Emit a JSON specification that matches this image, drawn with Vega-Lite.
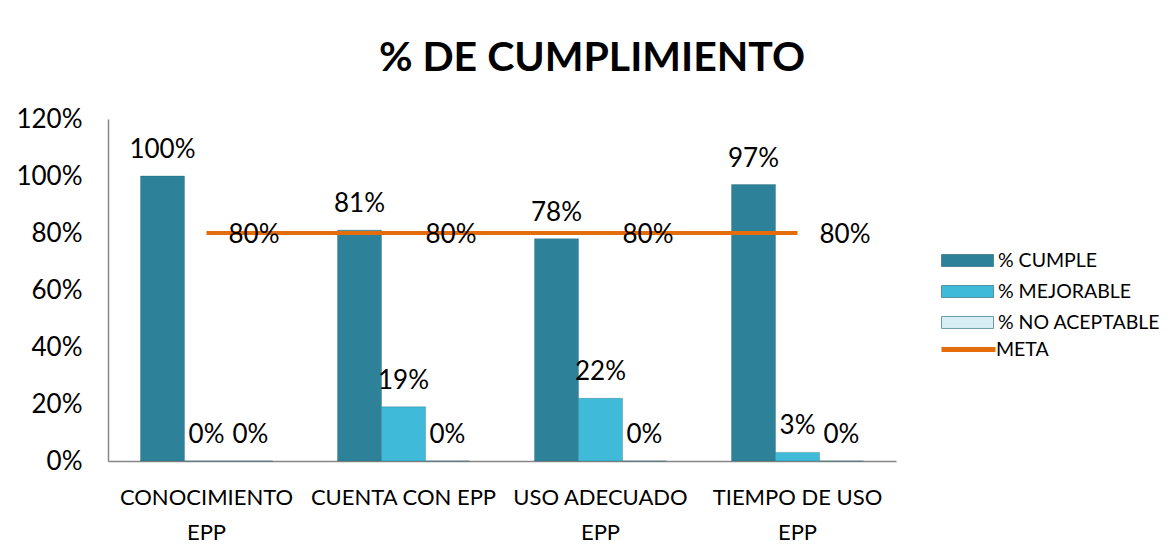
{
  "$schema": "https://vega.github.io/schema/vega-lite/v6.json",
  "width": 788,
  "height": 342,
  "autosize": {"type": "none"},
  "padding": {"left": 108, "top": 119, "right": 276, "bottom": 96},
  "background": "white",
  "config": {
    "font": "Lato, sans-serif",
    "view": {"stroke": null}
  },
  "title": {
    "text": "% DE CUMPLIMIENTO",
    "fontSize": 41,
    "fontWeight": "bold",
    "font": "Lato, sans-serif",
    "color": "#000000",
    "anchor": "middle",
    "dx": 90,
    "offset": 26
  },
  "datasets": {
    "barras": [
      {"categoria": "CONOCIMIENTO EPP", "serie": "% CUMPLE", "valor": 1.00},
      {"categoria": "CONOCIMIENTO EPP", "serie": "% MEJORABLE", "valor": 0.00},
      {"categoria": "CONOCIMIENTO EPP", "serie": "% NO ACEPTABLE", "valor": 0.00},
      {"categoria": "CUENTA CON EPP", "serie": "% CUMPLE", "valor": 0.81},
      {"categoria": "CUENTA CON EPP", "serie": "% MEJORABLE", "valor": 0.19},
      {"categoria": "CUENTA CON EPP", "serie": "% NO ACEPTABLE", "valor": 0.00},
      {"categoria": "USO ADECUADO EPP", "serie": "% CUMPLE", "valor": 0.78},
      {"categoria": "USO ADECUADO EPP", "serie": "% MEJORABLE", "valor": 0.22},
      {"categoria": "USO ADECUADO EPP", "serie": "% NO ACEPTABLE", "valor": 0.00},
      {"categoria": "TIEMPO DE USO EPP", "serie": "% CUMPLE", "valor": 0.97},
      {"categoria": "TIEMPO DE USO EPP", "serie": "% MEJORABLE", "valor": 0.03},
      {"categoria": "TIEMPO DE USO EPP", "serie": "% NO ACEPTABLE", "valor": 0.00}
    ],
    "meta": [
      {"categoria": "CONOCIMIENTO EPP", "meta": 0.8},
      {"categoria": "CUENTA CON EPP", "meta": 0.8},
      {"categoria": "USO ADECUADO EPP", "meta": 0.8},
      {"categoria": "TIEMPO DE USO EPP", "meta": 0.8}
    ]
  },
  "encoding": {
    "x": {
      "field": "categoria",
      "type": "nominal",
      "sort": ["CONOCIMIENTO EPP", "CUENTA CON EPP", "USO ADECUADO EPP", "TIEMPO DE USO EPP"],
      "scale": {"paddingInner": 0.33, "paddingOuter": 0.165},
      "axis": {
        "title": null,
        "labelAngle": 0,
        "labelFontSize": 22,
        "labelColor": "#000000",
        "labelPadding": 26,
        "labelLineHeight": 35,
        "labelBaseline": "top",
        "labelLimit": 0,
        "labelOverlap": false,
        "ticks": false,
        "domainColor": "#868686",
        "domainWidth": 1.5,
        "labelExpr": "datum.value == 'CONOCIMIENTO EPP' ? ['CONOCIMIENTO', 'EPP'] : datum.value == 'USO ADECUADO EPP' ? ['USO ADECUADO', 'EPP'] : datum.value == 'TIEMPO DE USO EPP' ? ['TIEMPO DE USO', 'EPP'] : datum.value"
      }
    }
  },
  "layer": [
    {
      "data": {"name": "barras"},
      "mark": {"type": "bar", "stroke": "#1f5f70", "strokeWidth": 0.6, "strokeOpacity": 0.5},
      "encoding": {
        "xOffset": {
          "field": "serie",
          "type": "nominal",
          "sort": ["% CUMPLE", "% MEJORABLE", "% NO ACEPTABLE"],
          "scale": {"paddingInner": 0, "paddingOuter": 0}
        },
        "y": {
          "field": "valor",
          "type": "quantitative",
          "scale": {"domain": [0, 1.2], "nice": false},
          "axis": {
            "title": null,
            "format": ".0%",
            "values": [0, 0.2, 0.4, 0.6, 0.8, 1.0, 1.2],
            "grid": false,
            "ticks": false,
            "labelFontSize": 26,
            "labelColor": "#000000",
            "labelPadding": 26,
            "domainColor": "#868686",
            "domainWidth": 1.5
          }
        },
        "color": {
          "field": "serie",
          "type": "nominal",
          "scale": {
            "domain": ["% CUMPLE", "% MEJORABLE", "% NO ACEPTABLE"],
            "range": ["#2D8199", "#3FBBD9", "#D6EEF4"]
          },
          "legend": {
            "title": null,
            "orient": "none",
            "legendX": 846,
            "legendY": 128,
            "padding": 0,
            "symbolType": "M-2,-0.46H2V0.46H-2Z",
            "symbolSize": 676,
            "symbolStrokeWidth": 0.6,
            "symbolStrokeColor": "#1f5f70",
            "symbolOpacity": 1,
            "labelFontSize": 19.5,
            "labelColor": "#000000",
            "labelOffset": 17,
            "labelLimit": 300,
            "rowPadding": 8
          }
        }
      }
    },
    {
      "data": {"name": "barras"},
      "mark": {"type": "text", "fontSize": 26, "color": "#000000", "baseline": "alphabetic", "dy": -18},
      "encoding": {
        "xOffset": {
          "field": "serie",
          "type": "nominal",
          "sort": ["% CUMPLE", "% MEJORABLE", "% NO ACEPTABLE"]
        },
        "y": {"field": "valor", "type": "quantitative"},
        "text": {"field": "valor", "type": "quantitative", "format": ".0%"}
      }
    },
    {
      "data": {"name": "meta"},
      "mark": {"type": "line", "strokeWidth": 4},
      "encoding": {
        "y": {"field": "meta", "type": "quantitative"},
        "stroke": {
          "datum": "META",
          "type": "nominal",
          "scale": {"domain": ["META"], "range": ["#E46C0A"]},
          "legend": {
            "title": null,
            "orient": "none",
            "legendX": 831,
            "legendY": 201,
            "padding": 0,
            "symbolType": "stroke",
            "symbolSize": 2916,
            "symbolStrokeWidth": 5,
            "labelFontSize": 19.5,
            "labelColor": "#000000",
            "labelOffset": -2
          }
        }
      }
    },
    {
      "data": {"name": "meta"},
      "mark": {"type": "text", "fontSize": 26, "color": "#000000", "align": "left", "baseline": "middle", "dx": 22, "dy": 2},
      "encoding": {
        "y": {"field": "meta", "type": "quantitative"},
        "text": {"field": "meta", "type": "quantitative", "format": ".0%"}
      }
    }
  ]
}
